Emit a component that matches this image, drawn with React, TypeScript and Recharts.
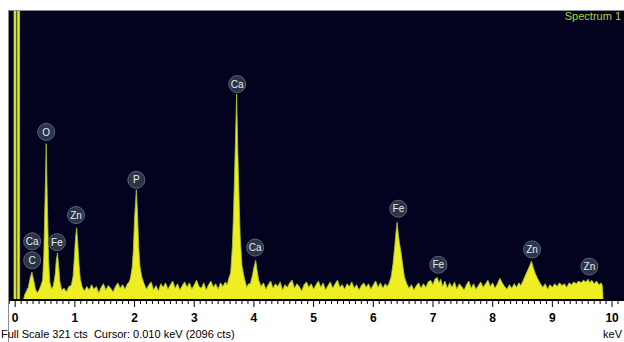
import React from 'react';
import { AreaChart, Area, XAxis, YAxis, CartesianGrid, ReferenceDot } from 'recharts';

const NAVY = '#03031f';
const YELLOW = '#eeee22';
const EDGE = '#a6c43a';
const FONT = 'Arial, "Liberation Sans", Helvetica, sans-serif';

// [keV, counts]
const noisePeak: [number, number][] = [
  [-0.12, 0], [-0.02, 0], [-0.015, 2096], [0.01, 2096], [0.015, 0],
  [0.035, 0], [0.04, 1500], [0.07, 1500], [0.075, 0], [0.14, 0],
];

const lowBand: [number, number][] = [
  [0.16, 6], [0.19, 10], [0.22, 14], [0.25, 24], [0.28, 31], [0.31, 22],
  [0.34, 12], [0.37, 8], [0.40, 11], [0.43, 16], [0.46, 22], [0.48, 50],
  [0.50, 110], [0.52, 173], [0.54, 105], [0.56, 45], [0.58, 20], [0.61, 12],
  [0.64, 16], [0.67, 28], [0.69, 45], [0.71, 52], [0.73, 36], [0.75, 20],
  [0.78, 11], [0.82, 13], [0.86, 9], [0.90, 15], [0.94, 16], [0.97, 26],
  [0.99, 45], [1.01, 68], [1.03, 80], [1.05, 62], [1.07, 40], [1.09, 24],
  [1.12, 15], [1.16, 10], [1.20, 15], [1.24, 11], [1.28, 17], [1.32, 12],
  [1.36, 15], [1.40, 8], [1.44, 14], [1.48, 18], [1.52, 11], [1.56, 16],
  [1.60, 13], [1.64, 9], [1.68, 15], [1.72, 19], [1.76, 13], [1.80, 17],
  [1.84, 12], [1.88, 18], [1.91, 20], [1.93, 24], [1.96, 36], [1.98, 55],
  [2.00, 90], [2.03, 122], [2.05, 95], [2.07, 58], [2.09, 38], [2.12, 26],
  [2.16, 18], [2.20, 12], [2.24, 17], [2.28, 20], [2.32, 11], [2.36, 16],
  [2.40, 10], [2.44, 18], [2.48, 14],
];

const midBand: [number, number][] = [
  [2.52, 19], [2.56, 12], [2.60, 17], [2.64, 21], [2.68, 13], [2.72, 18],
  [2.76, 11], [2.80, 16], [2.84, 20], [2.88, 14], [2.92, 19], [2.96, 12],
  [3.00, 17], [3.04, 22], [3.08, 15], [3.12, 13], [3.16, 19], [3.20, 11],
  [3.24, 17], [3.28, 21], [3.32, 14], [3.36, 18], [3.40, 12], [3.44, 19],
  [3.48, 15], [3.52, 20], [3.55, 17], [3.58, 24], [3.61, 30], [3.64, 60],
  [3.66, 100], [3.68, 150], [3.71, 228], [3.73, 165], [3.75, 115], [3.77, 70],
  [3.80, 38], [3.84, 24], [3.88, 14], [3.91, 18], [3.94, 18], [3.97, 26],
  [4.00, 36], [4.03, 44], [4.05, 34], [4.08, 22], [4.12, 15], [4.16, 19],
  [4.20, 12], [4.24, 17], [4.28, 21], [4.32, 13], [4.36, 18], [4.40, 15],
  [4.44, 20], [4.48, 11], [4.52, 17], [4.56, 14], [4.60, 19], [4.64, 22],
  [4.68, 13], [4.72, 18], [4.76, 15], [4.80, 10], [4.84, 17], [4.88, 20],
  [4.92, 14], [4.96, 18], [5.00, 12], [5.04, 17], [5.08, 21], [5.12, 14],
  [5.16, 19], [5.20, 11], [5.24, 16], [5.28, 20], [5.32, 13], [5.36, 18],
  [5.40, 22], [5.44, 14], [5.48, 17],
];

const highBand: [number, number][] = [
  [5.52, 12], [5.56, 18], [5.60, 15], [5.64, 20], [5.68, 13], [5.72, 17],
  [5.76, 11], [5.80, 16], [5.84, 19], [5.88, 14], [5.92, 18], [5.96, 12],
  [6.00, 17], [6.04, 21], [6.08, 14], [6.12, 19], [6.16, 13], [6.20, 18],
  [6.23, 15], [6.26, 18], [6.30, 26], [6.33, 40], [6.36, 60], [6.38, 75],
  [6.40, 86], [6.42, 72], [6.44, 62], [6.46, 55], [6.49, 40], [6.52, 26],
  [6.56, 18], [6.60, 13], [6.64, 17], [6.68, 11], [6.72, 16], [6.76, 19],
  [6.80, 13], [6.84, 18], [6.88, 14], [6.92, 20], [6.96, 22], [7.00, 17],
  [7.03, 23], [7.07, 25], [7.10, 19], [7.13, 23], [7.16, 15], [7.20, 21],
  [7.24, 13], [7.28, 19], [7.32, 14], [7.36, 20], [7.40, 12], [7.44, 18],
  [7.48, 15], [7.52, 11], [7.56, 17], [7.60, 21], [7.64, 13], [7.68, 18],
  [7.72, 12], [7.76, 16], [7.80, 20], [7.84, 14], [7.88, 18], [7.92, 22],
  [7.96, 15], [8.00, 19], [8.04, 13], [8.08, 18], [8.12, 24], [8.16, 19],
  [8.20, 15], [8.24, 12], [8.28, 17], [8.32, 13], [8.36, 18], [8.40, 14],
  [8.44, 19], [8.47, 16], [8.50, 20], [8.54, 26], [8.58, 32], [8.62, 38],
  [8.65, 43], [8.68, 36], [8.71, 30], [8.75, 24], [8.80, 18], [8.84, 14],
  [8.88, 18], [8.92, 12], [8.96, 17], [9.00, 14], [9.04, 18], [9.08, 15],
  [9.12, 19], [9.16, 16], [9.20, 18], [9.24, 14], [9.28, 19], [9.32, 17],
  [9.36, 20], [9.40, 18], [9.44, 21], [9.48, 19], [9.52, 22], [9.56, 20],
  [9.60, 23], [9.63, 19], [9.66, 22], [9.70, 18], [9.74, 21], [9.78, 17],
  [9.82, 19], [9.84, 15], [9.85, 0], [10.2, 0],
];

const spectrum = [...noisePeak, ...lowBand, ...midBand, ...highBand].map(([kev, cts]) => ({ kev, cts }));

// element markers: name, keV, counts of the marker centre
const peakNames = ['C', 'Ca', 'O', 'Fe', 'Zn', 'P', 'Ca', 'Ca', 'Fe', 'Fe', 'Zn', 'Zn'];
const peakKev = [0.285, 0.285, 0.52, 0.70, 1.02, 2.03, 3.72, 4.02, 6.42, 7.09, 8.66, 9.62];
const peakCts = [44, 65, 186, 64, 94, 133, 239, 58, 101, 39, 56, 37];

const majorTicks = [0, 1, 2, 3, 4, 5, 6, 7, 8, 9, 10];
const minorTicks = [-0.1, ...majorTicks.slice(0, -1).flatMap((t) => [1, 2, 3, 4, 5, 6, 7, 8, 9].map((i) => t + i / 10)), 10.1];
const allTicks = [...majorTicks, ...minorTicks].sort((a, b) => a - b);

function KevTick(props: any) {
  const { x, y, payload } = props;
  const v = payload.value as number;
  const major = Math.abs(v - Math.round(v)) < 1e-6;
  return (
    <g>
      <line x1={x} x2={x} y1={y} y2={y + (major ? 7 : 4)} stroke="#000" strokeWidth={1} />
      {major && (
        <text x={x} y={y + 22} textAnchor="middle" fontSize={12} fontWeight="bold" fill="#000" fontFamily={FONT}>
          {Math.round(v)}
        </text>
      )}
    </g>
  );
}

export default function App() {
  return (
    <div style={{ position: 'absolute', left: 0, top: 0, width: 624, height: 342, background: '#fff', fontFamily: FONT, overflow: 'hidden' }}>
      <AreaChart width={624} height={342} data={spectrum} margin={{ top: 10, right: 0, left: 8, bottom: 12 }}>
        <CartesianGrid fill={NAVY} horizontal={false} vertical={false} stroke="none" />
        <XAxis
          dataKey="kev"
          type="number"
          domain={[-0.12, 10.2]}
          ticks={allTicks}
          interval={0}
          height={30}
          tickSize={0}
          tickMargin={0}
          tickLine={false}
          axisLine={{ stroke: '#000', strokeWidth: 2 }}
          tick={<KevTick />}
          allowDataOverflow
        />
        <YAxis type="number" domain={[0, 321]} hide allowDataOverflow />
        <Area
          type="linear"
          dataKey="cts"
          stroke={EDGE}
          strokeWidth={0.8}
          fill={YELLOW}
          fillOpacity={1}
          isAnimationActive={false}
          dot={false}
          activeDot={false}
        />
        {peakNames.map((name, i) => (
          <ReferenceDot
            key={i}
            x={peakKev[i]}
            y={peakCts[i]}
            r={8.5}
            fill="#2b3547"
            stroke="#59647c"
            strokeWidth={1}
            ifOverflow="visible"
            label={{ value: name, position: 'center', fill: '#e8edf5', fontSize: 10 }}
          />
        ))}
      </AreaChart>
      <svg width={624} height={342} style={{ position: 'absolute', left: 0, top: 0, pointerEvents: 'none' }}>
        <line x1={8} x2={624} y1={10.5} y2={10.5} stroke="#8a8a92" strokeWidth={1} />
        <line x1={8.5} x2={8.5} y1={10} y2={342} stroke="#8a8a92" strokeWidth={1} />
        <text x={621} y={20} textAnchor="end" fontSize={11} fill="#a9d43b" fontFamily={FONT}>Spectrum 1</text>
        <text x={1} y={338} fontSize={11} fill="#000" fontFamily={FONT} style={{ whiteSpace: 'pre' }}>
          {'Full Scale 321 cts  Cursor: 0.010 keV (2096 cts)'}
        </text>
        <text x={622} y={338} textAnchor="end" fontSize={11} fill="#000" fontFamily={FONT}>keV</text>
      </svg>
    </div>
  );
}
